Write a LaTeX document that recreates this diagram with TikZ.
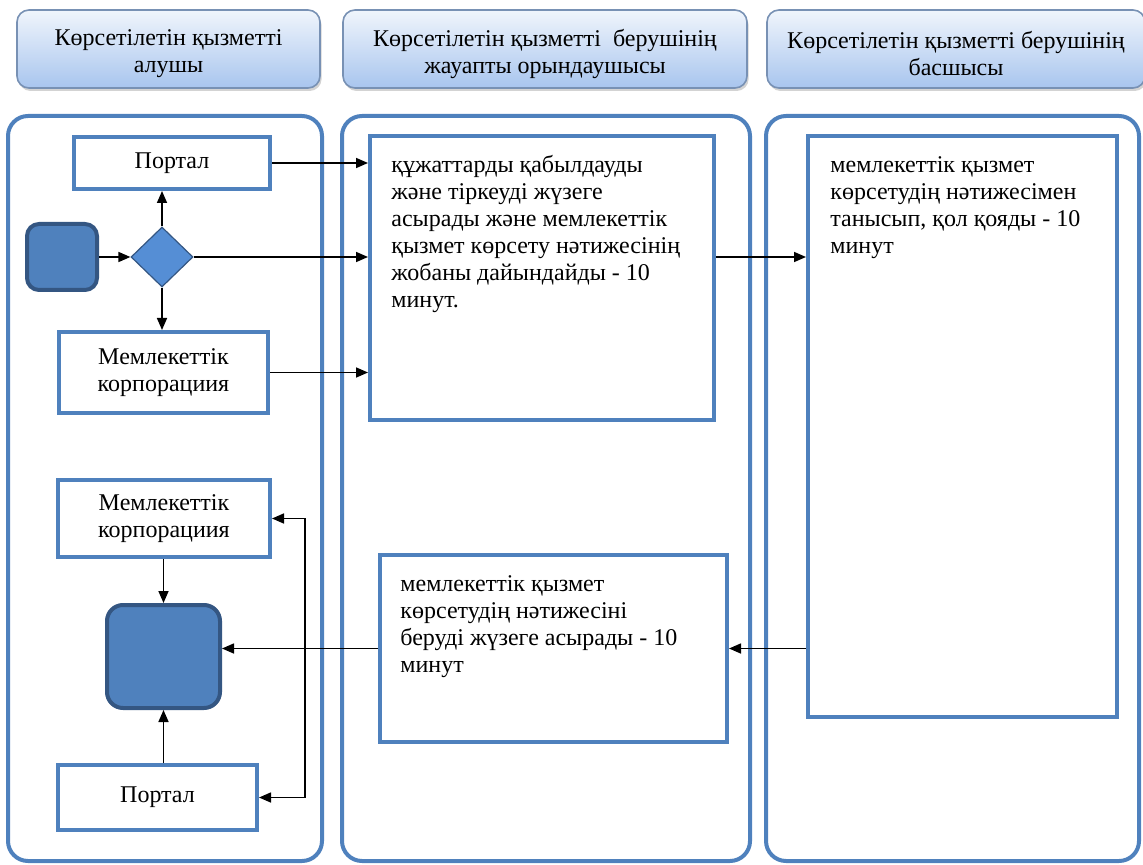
\documentclass[tikz,border=0pt]{standalone}
\usepackage{fontspec}
\setmainfont{Liberation Serif}
\usetikzlibrary{positioning}
\usetikzlibrary{shapes.geometric}
\usetikzlibrary{arrows.meta}
\usetikzlibrary{shadows}
\definecolor{laneColor}{RGB}{79,129,189}
\definecolor{headTop}{RGB}{240,245,252}
\definecolor{headBottom}{RGB}{168,197,238}
\definecolor{headBorder}{RGB}{120,145,180}
\definecolor{termColor}{RGB}{79,129,189}
\definecolor{termBorder}{RGB}{52,86,130}
\definecolor{decColor}{RGB}{85,142,213}

\begin{document}
\begin{tikzpicture}[x=0.5pt,y=-0.5pt]

          \tikzstyle{headNode} = [draw=headBorder, line width=0.8pt, rounded corners=6pt, top color=headTop, bottom color=headBottom, drop shadow={opacity=0.35, shadow xshift=0.8pt, shadow yshift=-1.5pt}, minimum height=39pt];
          \tikzstyle{headText} = [align=center, inner sep=0pt, font=\fontsize{12}{13.5}\selectfont];
          \tikzstyle{laneEdge} = [draw=laneColor, line width=2pt, rounded corners=10pt];
          \tikzstyle{boxNode} = [draw=laneColor, line width=2pt, fill=white, align=center, font=\fontsize{12}{13.5}\selectfont, inner sep=0pt];
          \tikzstyle{textNode} = [anchor=north west, align=left, inner sep=0pt, font=\fontsize{12}{13.5}\selectfont];
          \tikzstyle{termNode} = [draw=termBorder, line width=2pt, fill=termColor, rounded corners=6pt, inner sep=0pt];
          \tikzstyle{decNode} = [diamond, draw=termBorder, line width=0.6pt, fill=decColor, minimum width=31pt, minimum height=30pt, inner sep=0pt];
          \tikzstyle{arrowEdge} = [line width=0.8pt, -{Triangle[length=6pt,width=5pt]}];
          \tikzstyle{twoEdge} = [line width=0.8pt, {Triangle[length=6pt,width=5pt]}-{Triangle[length=6pt,width=5pt]}];

          \useasboundingbox (0,0) rectangle (1143,865);

          \node[headNode, minimum width=151.5pt] (head1) at (168.5,49) {};
          \node[headNode, minimum width=202pt] (head2) at (545,49) {};
          \node[headNode, minimum width=189pt] (head3) at (956,49) {};
          \node[headText] (head1Text) at ([yshift=-2.5pt]head1.center) {Көрсетілетін қызметті\\алушы};
          \node[headText] (head2Text) at ([yshift=-2.5pt]head2.center) {Көрсетілетін қызметті~ берушінің\\жауапты орындаушысы};
          \node[headText] (head3Text) at ([yshift=-2.5pt]head3.center) {Көрсетілетін қызметті берушінің\\басшысы};

          \draw[laneEdge] (8,116) rectangle (322,861);
          \draw[laneEdge] (342,116) rectangle (750,861);
          \draw[laneEdge] (766,116) rectangle (1139,861);

          \node[boxNode, minimum width=98pt, minimum height=26pt] (portalA) at (172,163) {Портал};
          \node[termNode, minimum width=35pt, minimum height=33pt] (start) at (62,257) {};
          \node[decNode] (dec) at (162,257) {};
          \node[boxNode, minimum width=104.5pt, minimum height=40.5pt] (corpA) at (163.5,372.5) {Мемлекеттік\\корпорациия};

          \node[boxNode, minimum width=172pt, minimum height=141.5pt] (recv) at (542,278) {};
          \node[textNode] (recvText) at ([xshift=11.5pt,yshift=-10pt]recv.north west) {құжаттарды қабылдауды\\және тіркеуді жүзеге\\асырады және мемлекеттік\\қызмет көрсету нәтижесінің\\жобаны дайындайды - 10\\минут.};

          \node[boxNode, minimum width=154.5pt, minimum height=290.5pt] (sign) at (962.5,426.5) {};
          \node[textNode] (signText) at ([xshift=12pt,yshift=-11pt]sign.north west) {мемлекеттік қызмет\\көрсетудің нәтижесімен\\танысып, қол қояды - 10\\минут};

          \node[boxNode, minimum width=173.5pt, minimum height=93.5pt] (issue) at (553.5,648.5) {};
          \node[textNode] (issueText) at ([xshift=11pt,yshift=-11pt]issue.north west) {мемлекеттік қызмет\\көрсетудің нәтижесіні\\беруді жүзеге асырады - 10\\минут};

          \node[boxNode, minimum width=106pt, minimum height=38.5pt] (corpB) at (164,518.5) {Мемлекеттік\\корпорациия};
          \node[termNode, minimum width=56.5pt, minimum height=51.5pt, rounded corners=8pt] (result) at (163.5,656.5) {};
          \node[boxNode, minimum width=99.5pt, minimum height=32.5pt] (portalB) at (157.5,797.5) {Портал};

          \draw[arrowEdge] (start) -- (dec);
          \draw[arrowEdge] (dec.north) -- (dec.north |- portalA.south);
          \draw[arrowEdge] (dec.south) -- (dec.south |- corpA.north);
          \draw[arrowEdge] (portalA.east) -- (portalA.east -| recv.west);
          \draw[arrowEdge] (dec.east) -- (dec.east -| recv.west);
          \draw[arrowEdge] (corpA.east) -- (corpA.east -| recv.west);
          \draw[arrowEdge] (recv.east |- dec) -- (sign.west |- dec);
          \draw[arrowEdge] (sign.west |- issue.east) -- (issue.east);
          \draw[arrowEdge] (issue.west) -- (issue.west -| result.east);
          \draw[arrowEdge] (corpB.south -| result) -- (result.north);
          \draw[arrowEdge] (portalB.north -| result) -- (result.south);
          \draw[twoEdge] (corpB.east) -- ++(33,0) |- (portalB.east);
        \end{tikzpicture}
\end{document}
